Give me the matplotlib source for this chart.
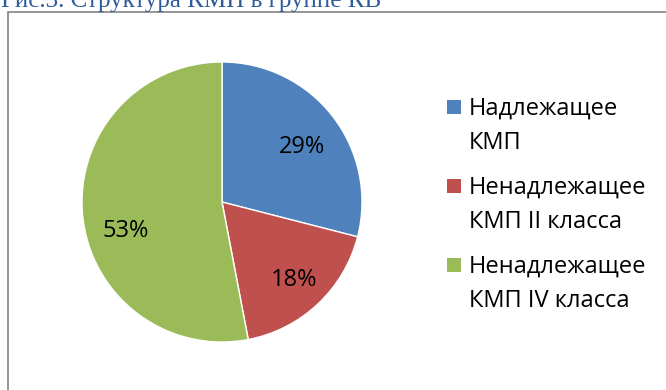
import matplotlib.pyplot as plt
from matplotlib.patches import Rectangle

labels = ["Надлежащее\nКМП", "Ненадлежащее\nКМП II класса", "Ненадлежащее\nКМП IV класса"]
shares = [29, 18, 53]
colors = ["#4F81BD", "#C0504D", "#9BBB59"]

W, H = 666, 390
plt.rcParams['font.family'] = ['Open Sans', 'DejaVu Sans']
fig = plt.figure(figsize=(W / 100, H / 100), dpi=100)


def px(x, y):
    # pixel position from top-left -> figure fraction
    return x / W, 1 - y / H


# caption above the chart frame, clipped by the top edge
fig.text(*px(1, 7), "Рис.3. Структура КМП в группе КВ", fontsize=18,
         family=['Liberation Serif'], color="#2E5C9A", va="baseline", ha="left")

# chart frame
fig.patches.append(Rectangle(px(8, 400), 1.2, (400 - 12) / H, transform=fig.transFigure,
                             fill=False, edgecolor="#8C8C8C", linewidth=1.3))

cx, cy, r = 222, 202, 140
ax = fig.add_axes([(cx - r) / W, 1 - (cy + r) / H, 2 * r / W, 2 * r / H])
wedges, texts, autotexts = ax.pie(shares, colors=colors, startangle=90, counterclock=False,
                                  autopct=lambda p: f"{p:.0f}%", pctdistance=0.72,
                                  wedgeprops=dict(edgecolor="white", linewidth=1.0),
                                  textprops=dict(fontsize=17, color="black"))
# nudge the percentage labels a little lower inside their slices
for t, (dx, dy) in zip(autotexts, [(0.0, -0.05), (0.02, -0.03), (0.03, -0.14)]):
    x0, y0 = t.get_position()
    t.set_position((x0 + dx, y0 + dy))
ax.set_xlim(-1, 1)
ax.set_ylim(-1, 1)
ax.set_aspect("equal")

# legend: square marker next to the first line of each two-line label
for i, (lab, col) in enumerate(zip(labels, colors)):
    top = 100 + 79 * i
    fig.patches.append(Rectangle(px(447, top + 14), 14 / W, 14 / H, transform=fig.transFigure,
                                 facecolor=col, edgecolor="none"))
    fig.text(*px(469, top + 17 + 32), lab, fontsize=17, va="baseline", ha="left",
             linespacing=1.58, color="black")

fig.savefig("out.png", dpi=100)
